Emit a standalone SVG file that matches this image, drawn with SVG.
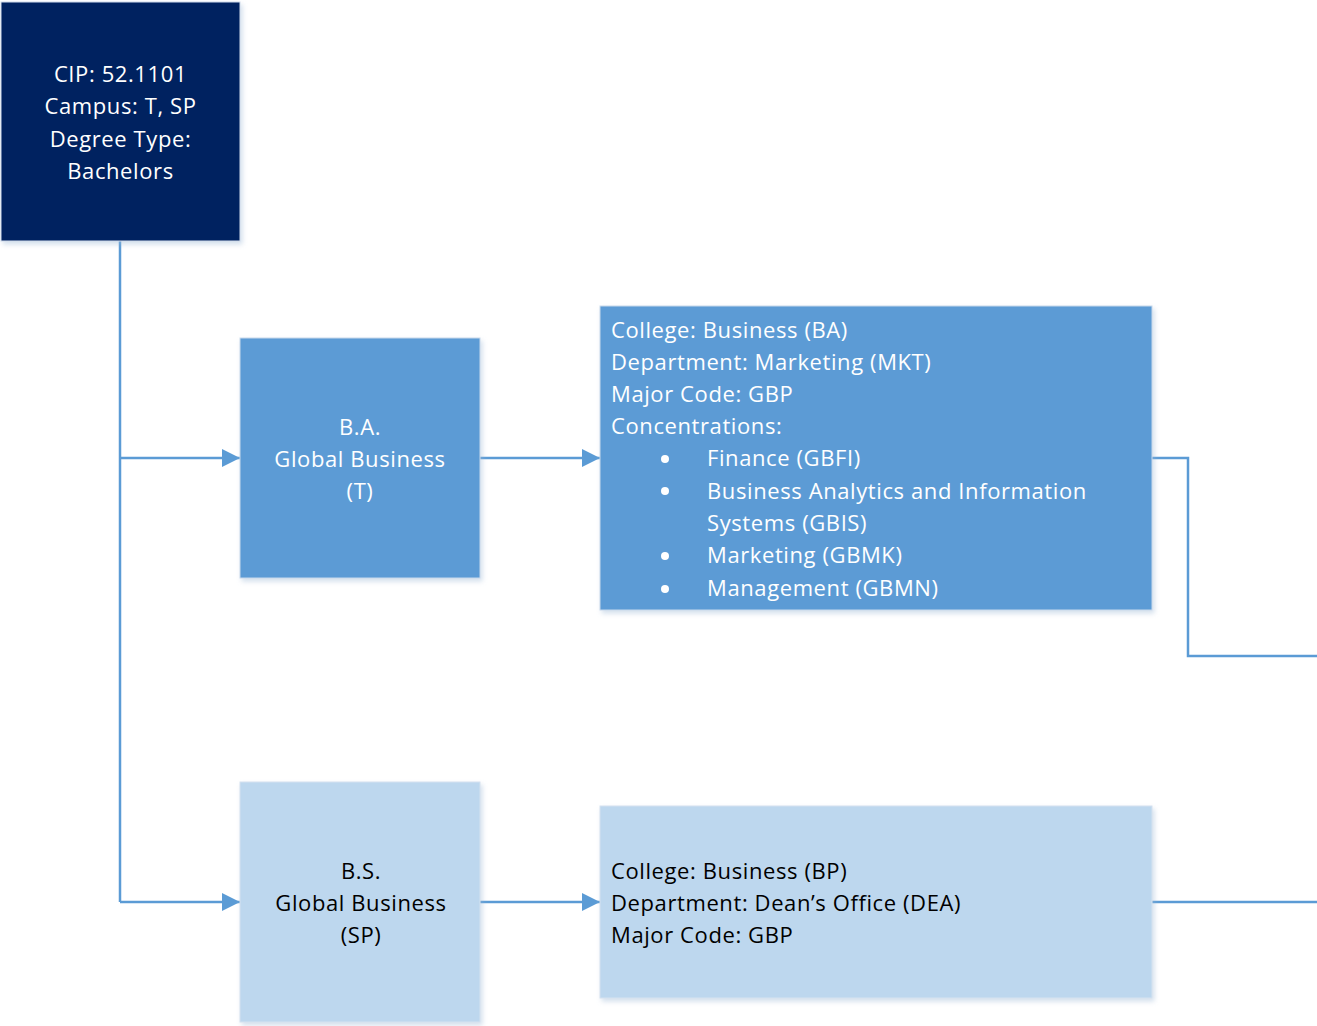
<svg xmlns="http://www.w3.org/2000/svg" width="1317" height="1026" viewBox="0 0 1317 1026">
<defs>
<style>
.t{font-family:"Open Sans","Liberation Sans",sans-serif;font-size:22px;letter-spacing:0.6px;}
.w{fill:#ffffff;}
.k{fill:#000000;}
.c{stroke:#5B9BD5;stroke-width:2.5;fill:none;}
</style>
<filter id="sh" x="-5%" y="-5%" width="115%" height="115%">
<feDropShadow dx="2" dy="3" stdDeviation="2.5" flood-color="#9DB7D6" flood-opacity="0.45"/>
</filter>
<marker id="ah" markerWidth="18" markerHeight="18" refX="18" refY="9" orient="auto" markerUnits="userSpaceOnUse">
<path d="M0,0 L18,9 L0,18 Z" fill="#5B9BD5"/>
</marker>
</defs>
<rect width="1317" height="1026" fill="#ffffff"/>
<g id="connectors">
<path class="c" d="M120,241 V902"/>
<path class="c" d="M120,458 H240" marker-end="url(#ah)"/>
<path class="c" d="M120,902 H240" marker-end="url(#ah)"/>
<path class="c" d="M480,458 H600" marker-end="url(#ah)"/>
<path class="c" d="M480,902 H600" marker-end="url(#ah)"/>
<path class="c" d="M1152,458 H1188 V656 H1317"/>
<path class="c" d="M1152,902 H1317"/>
</g>
<g id="node-cip">
<rect x="1" y="2" width="239" height="239" fill="#002060" stroke="#D0DCEB" stroke-width="1" filter="url(#sh)"/>
<text class="t w" text-anchor="middle"><tspan x="120.5" y="82">CIP: 52.1101</tspan><tspan x="120.5" y="114">Campus: T, SP</tspan><tspan x="120.5" y="147">Degree Type:</tspan><tspan x="120.5" y="179">Bachelors</tspan></text>
</g>
<g id="node-ba">
<rect x="240" y="338" width="240" height="240" fill="#5B9BD5" stroke="#C9D9EC" stroke-width="1" filter="url(#sh)"/>
<text class="t w" text-anchor="middle"><tspan x="360" y="435">B.A.</tspan><tspan x="360" y="467">Global Business</tspan><tspan x="360" y="499">(T)</tspan></text>
</g>
<g id="node-ba-info">
<rect x="600" y="306" width="552" height="304" fill="#5B9BD5" stroke="#C9D9EC" stroke-width="1" filter="url(#sh)"/>
<text class="t w"><tspan x="611" y="338">College: Business (BA)</tspan><tspan x="611" y="370">Department: Marketing (MKT)</tspan><tspan x="611" y="402">Major Code: GBP</tspan><tspan x="611" y="434">Concentrations:</tspan><tspan x="707" y="466">Finance (GBFI)</tspan><tspan x="707" y="499">Business Analytics and Information</tspan><tspan x="707" y="531">Systems (GBIS)</tspan><tspan x="707" y="563">Marketing (GBMK)</tspan><tspan x="707" y="596">Management (GBMN)</tspan></text>
<circle cx="665" cy="459" r="4" fill="#ffffff"/>
<circle cx="665" cy="491" r="4" fill="#ffffff"/>
<circle cx="665" cy="556" r="4" fill="#ffffff"/>
<circle cx="665" cy="589" r="4" fill="#ffffff"/>
</g>
<g id="node-bs">
<rect x="240" y="782" width="240" height="240" fill="#BDD7EE" stroke="#D5E2F0" stroke-width="1" filter="url(#sh)"/>
<text class="t k" text-anchor="middle"><tspan x="361" y="879">B.S.</tspan><tspan x="361" y="911">Global Business</tspan><tspan x="361" y="943">(SP)</tspan></text>
</g>
<g id="node-bs-info">
<rect x="600" y="806" width="552" height="192" fill="#BDD7EE" stroke="#D5E2F0" stroke-width="1" filter="url(#sh)"/>
<text class="t k"><tspan x="611" y="879">College: Business (BP)</tspan><tspan x="611" y="911">Department: Dean’s Office (DEA)</tspan><tspan x="611" y="943">Major Code: GBP</tspan></text>
</g>
</svg>
